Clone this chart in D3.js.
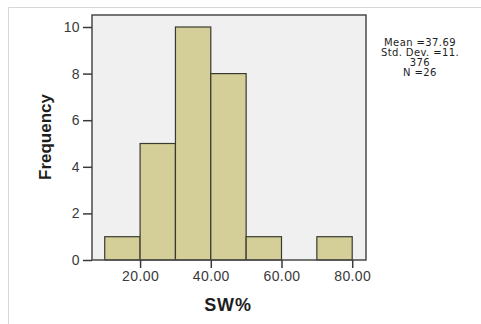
<!DOCTYPE html>
<html>
<head>
<meta charset="utf-8">
<script src="https://cdn.jsdelivr.net/npm/d3@7/dist/d3.min.js"></script>
<style>
  html, body { margin: 0; padding: 0; background: #fff; }
  svg { display: block; }
</style>
</head>
<body>
<div id="chart"></div>
<script>
// histogram bins (SW%) and frequencies
const binStarts = [10, 20, 30, 40, 50, 60, 70]
const binWidth = 10
const counts = [1, 5, 10, 8, 1, 0, 1]
const xTicks = [20, 40, 60, 80]
const yTicks = [0, 2, 4, 6, 8, 10]
const statsLines = ['Mean =37.69', 'Std. Dev. =11.', '376', 'N =26']

const W = 481, H = 324
const plot = { left: 92, top: 15, right: 366, bottom: 260 }

const svg = d3.select('#chart').append('svg')
  .attr('width', W)
  .attr('height', H)

// page frame lines
svg.append('path')
  .attr('d', `M8.5,${H} V7.5 H${W}`)
  .attr('fill', 'none')
  .attr('stroke', '#d6d6d6')
  .attr('stroke-width', 1)

const x = d3.scaleLinear().domain([6.4, 83.9]).range([plot.left, plot.right])
const y = d3.scaleLinear().domain([0, 10]).range([plot.bottom, 27])

/* plot background */
svg.append('rect')
  .attr('x', plot.left)
  .attr('y', plot.top)
  .attr('width', plot.right - plot.left)
  .attr('height', plot.bottom - plot.top)
  .attr('fill', '#f0f0f0')

/* bars */
const bins = binStarts.map((s, i) => ({ x0: s, x1: s + binWidth, n: counts[i] }))
svg.append('g').selectAll('rect')
  .data(bins.filter(d => d.n > 0))
  .join('rect')
  .attr('x', d => x(d.x0))
  .attr('y', d => y(d.n))
  .attr('width', d => x(d.x1) - x(d.x0))
  .attr('height', d => y(0) - y(d.n))
  .attr('fill', '#d4cf98')
  .attr('stroke', '#3a3a2e')
  .attr('stroke-width', 1.2)

/* plot frame */
svg.append('rect')
  .attr('x', plot.left)
  .attr('y', plot.top)
  .attr('width', plot.right - plot.left)
  .attr('height', plot.bottom - plot.top)
  .attr('fill', 'none')
  .attr('stroke', '#4a4a4a')
  .attr('stroke-width', 1.5)

/* axes */
const yAxis = svg.append('g')
  .attr('transform', `translate(${plot.left},0)`)
  .call(d3.axisLeft(y).tickValues(yTicks).tickSize(9).tickPadding(3).tickFormat(d3.format('d')))
const xAxis = svg.append('g')
  .attr('transform', `translate(0,${plot.bottom})`)
  .call(d3.axisBottom(x).tickValues(xTicks).tickSize(8).tickPadding(3).tickFormat(d3.format('.2f')))

for (const ax of [yAxis, xAxis]) {
  ax.select('.domain').remove()
  ax.selectAll('.tick line').attr('stroke', '#3a3a3a').attr('stroke-width', 1.5)
  ax.selectAll('.tick text')
    .attr('fill', '#3a3a3a')
    .attr('font-family', 'Arial, "Liberation Sans", sans-serif')
    .attr('font-size', '14px')
    .attr('letter-spacing', '0.4px')
}

/* axis titles */
svg.append('text')
  .attr('transform', `translate(51,137) rotate(-90)`)
  .attr('text-anchor', 'middle')
  .attr('font-family', 'Arial, "Liberation Sans", sans-serif')
  .attr('font-weight', 'bold')
  .attr('font-size', '17px')
  .attr('fill', '#1e1e1e')
  .text('Frequency')

svg.append('text')
  .attr('x', 228)
  .attr('y', 311)
  .attr('text-anchor', 'middle')
  .attr('font-family', 'Arial, "Liberation Sans", sans-serif')
  .attr('font-weight', 'bold')
  .attr('font-size', '18px')
  .attr('letter-spacing', '0.8px')
  .attr('fill', '#1e1e1e')
  .text('SW%')

/* stats legend */
svg.append('g').selectAll('text')
  .data(statsLines)
  .join('text')
  .attr('x', 420)
  .attr('y', (d, i) => 46 + i * 10)
  .attr('text-anchor', 'middle')
  .attr('font-family', '"DejaVu Sans", sans-serif')
  .attr('font-size', '10px')
  .attr('letter-spacing', '0.4px')
  .attr('fill', '#1e1e1e')
  .text(d => d)
</script>
</body>
</html>
